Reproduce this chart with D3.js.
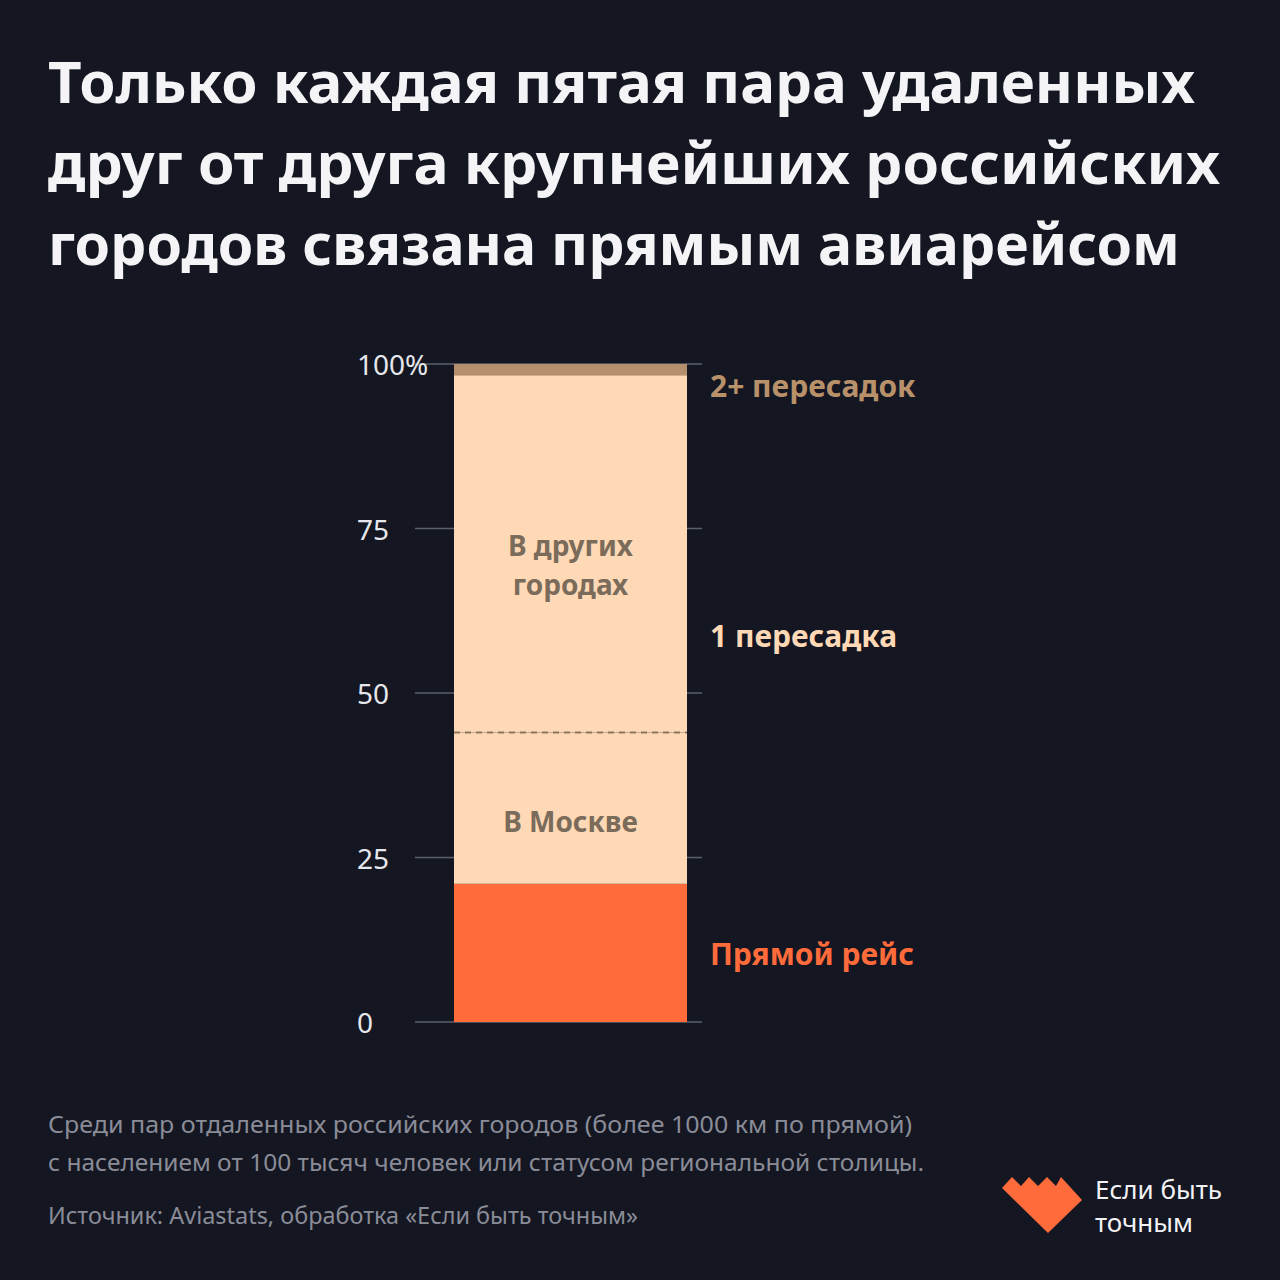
<!DOCTYPE html>
<html>
<head>
<meta charset="utf-8">
<script src="https://cdn.jsdelivr.net/npm/d3@7.9.0/dist/d3.min.js"></script>
<style>
  html, body { margin: 0; padding: 0; background: #141622; }
  svg { display: block; }
</style>
</head>
<body>
<script>
// ─── DATA ────────────────────────────────────────────────────────────────────
const segments   = ['direct', 'moscow', 'other', 'multi'];
const values     = [21, 23, 54.3, 1.7];           // % of city pairs
const barLabels  = ['', 'В Москве', 'В других\nгородах', ''];
const yTicks     = [0, 25, 50, 75, 100];
const yTickText  = ['0', '25', '50', '75', '100%'];

// right-hand legend: label, start value, end value
const groupNames = ['Прямой рейс', '1 пересадка', '2+ пересадок'];
const groupFrom  = [0, 21, 98.3];
const groupTo    = [21, 98.3, 100];

const titleLines = [
  'Только каждая пятая пара удаленных',
  'друг от друга крупнейших российских',
  'городов связана прямым авиарейсом'
];
const noteLines = [
  'Среди пар отдаленных российских городов (более 1000 км по прямой)',
  'с населением от 100 тысяч человек или статусом региональной столицы.'
];
const sourceLine = 'Источник: Aviastats, обработка «Если быть точным»';

// ─── SETUP ───────────────────────────────────────────────────────────────────
const W = 1280, H = 1280;
const BG = '#141622';
const segColor   = { direct: '#ff6b3a', moscow: '#ffd9b6', other: '#ffd9b6', multi: '#b58e6b' };
const groupColor = ['#ff6b3a', '#ffd9b6', '#b8916b'];
const FONT = '"Noto Sans", "Open Sans", sans-serif';

const svg = d3.select('body').append('svg')
  .attr('width', W).attr('height', H);

svg.append('rect').attr('width', W).attr('height', H).attr('fill', BG);

// title
const titleWidths = [1147, 1172, 1132];
svg.append('g').selectAll('text')
  .data(titleLines)
  .join('text')
    .attr('x', 48)
    .attr('y', (d, i) => 103 + i * 81)
    .attr('textLength', (d, i) => titleWidths[i])
    .attr('lengthAdjust', 'spacingAndGlyphs')
    .style('font-family', FONT)
    .style('font-weight', 700)
    .style('font-size', '58px')
    .style('fill', '#f4f4f6')
    .text(d => d);

// ─── CHART ───────────────────────────────────────────────────────────────────
const y = d3.scaleLinear().domain([0, 100]).range([1022, 364]);
const x = d3.scaleBand().domain(['all']).range([454, 687]).padding(0);

const gridX0 = 415, gridX1 = 702;

// grid / tick lines
svg.append('g').selectAll('line')
  .data(yTicks)
  .join('line')
    .attr('x1', gridX0).attr('x2', gridX1)
    .attr('y1', d => y(d)).attr('y2', d => y(d))
    .attr('stroke', '#5b5f6c')
    .attr('stroke-width', 1.5);

// tick labels (left aligned)
svg.append('g').selectAll('text')
  .data(yTicks)
  .join('text')
    .attr('x', 357)
    .attr('y', d => y(d) + 11)
    .style('font-family', FONT)
    .style('font-size', '28px')
    .style('fill', '#e6e7ec')
    .text((d, i) => yTickText[i]);

// stacked bar
const stacked = [];
let acc = 0;
values.forEach((v, i) => {
  stacked.push({ key: segments[i], y0: acc, y1: acc + v, label: barLabels[i] });
  acc += v;
});

svg.append('g').selectAll('rect')
  .data(stacked)
  .join('rect')
    .attr('x', x('all'))
    .attr('width', x.bandwidth())
    .attr('y', d => y(d.y1))
    .attr('height', d => y(d.y0) - y(d.y1))
    .attr('fill', d => segColor[d.key]);

// dashed divider between Moscow and other cities
const divider = stacked[1].y1;
svg.append('line')
  .attr('x1', x('all')).attr('x2', x('all') + x.bandwidth())
  .attr('y1', y(divider)).attr('y2', y(divider))
  .attr('stroke', '#8b7660')
  .attr('stroke-width', 2)
  .attr('stroke-dasharray', '6 5');

// labels inside the bar
const inner = svg.append('g');
stacked.filter(d => d.label).forEach(d => {
  const lines = d.label.split('\n');
  const cy = d.key === 'moscow' ? y(d.y0 + (d.y1 - d.y0) * 0.4) : y(d.y0 + (d.y1 - d.y0) * 0.465);
  const t = inner.append('text')
    .attr('x', x('all') + x.bandwidth() / 2)
    .attr('text-anchor', 'middle')
    .style('font-family', FONT)
    .style('font-weight', 700)
    .style('font-size', '28px')
    .style('fill', '#7b6b5a');
  lines.forEach((ln, j) => {
    t.append('tspan')
      .attr('x', x('all') + x.bandwidth() / 2)
      .attr('y', cy + 9 + (j - (lines.length - 1) / 2) * 39)
      .text(ln);
  });
});

// right-hand group labels
const groupOffset = [2, 7, 17];
svg.append('g').selectAll('text')
  .data(groupNames)
  .join('text')
    .attr('x', 710)
    .attr('y', (d, i) => y((groupFrom[i] + groupTo[i]) / 2) + 10 + groupOffset[i])
    .style('font-family', FONT)
    .style('font-weight', 700)
    .style('font-size', '30px')
    .style('fill', (d, i) => groupColor[i])
    .text(d => d);

// ─── FOOTER ──────────────────────────────────────────────────────────────────
svg.append('g').selectAll('text')
  .data(noteLines)
  .join('text')
    .attr('x', 48)
    .attr('y', (d, i) => 1133 + i * 38)
    .attr('textLength', (d, i) => [864, 876][i])
    .attr('lengthAdjust', 'spacingAndGlyphs')
    .style('font-family', FONT)
    .style('font-size', '23px')
    .style('fill', '#8a8c97')
    .text(d => d);

svg.append('text')
  .attr('x', 48)
  .attr('y', 1224)
  .attr('textLength', 590)
  .attr('lengthAdjust', 'spacingAndGlyphs')
  .style('font-family', FONT)
  .style('font-size', '23px')
  .style('fill', '#8a8c97')
  .text(sourceLine);

// logo
svg.append('path')
  .attr('d', 'M1002,1188 L1012,1177 L1021,1186 L1029,1177 L1038,1186 L1047,1177 L1056,1186 L1061,1177 L1082,1200 L1048,1233 Z')
  .attr('fill', '#ff6b3a');

svg.append('g').selectAll('text')
  .data(['Если быть', 'точным'])
  .join('text')
    .attr('x', 1095)
    .attr('y', (d, i) => 1199 + i * 33)
    .style('font-family', FONT)
    .style('font-size', '26px')
    .style('fill', '#f2f2f4')
    .text(d => d);
</script>
</body>
</html>
